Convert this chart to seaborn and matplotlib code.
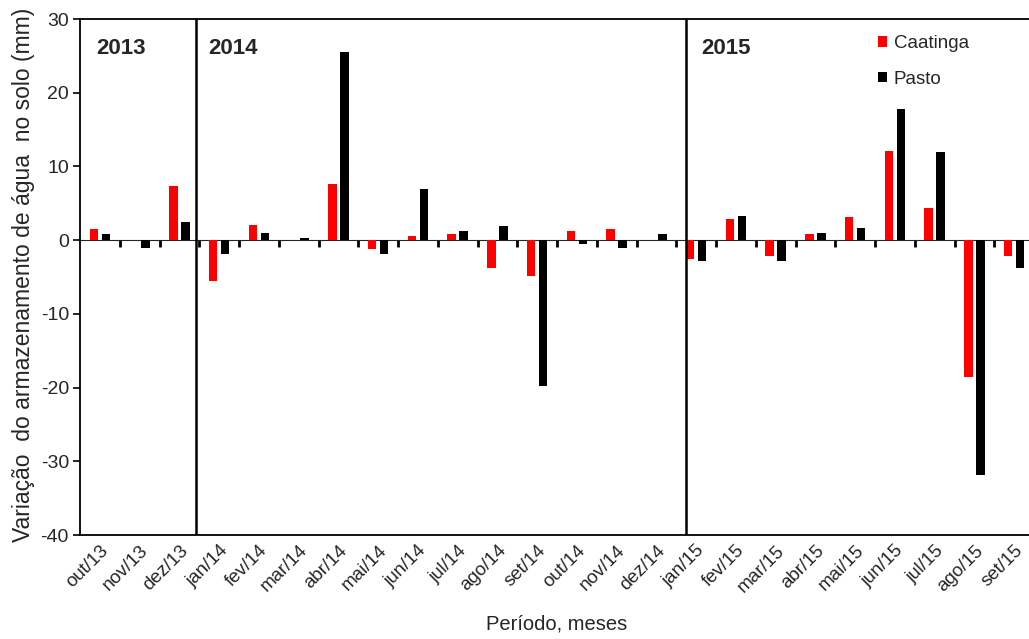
import numpy as np
import pandas as pd
import matplotlib
matplotlib.use("Agg")
import matplotlib.pyplot as plt
import seaborn as sns

# Monthly soil water storage change (mm), Oct/2013 - Sep/2015
months = ["out/13", "nov/13", "dez/13",
          "jan/14", "fev/14", "mar/14", "abr/14", "mai/14", "jun/14",
          "jul/14", "ago/14", "set/14", "out/14", "nov/14", "dez/14",
          "jan/15", "fev/15", "mar/15", "abr/15", "mai/15", "jun/15",
          "jul/15", "ago/15", "set/15"]
caatinga = [1.5, 0.0, 7.4,
            -5.6, 2.1, 0.0, 7.6, -1.2, 0.5,
            0.8, -3.8, -4.9, 1.2, 1.45, 0.0,
            -2.6, 2.85, -2.2, 0.8, 3.1, 12.1,
            4.4, -18.5, -2.2]
pasto = [0.8, -1.0, 2.4,
         -1.9, 1.0, 0.3, 25.5, -1.9, 6.9,
         1.3, 1.9, -19.8, -0.5, -1.0, 0.8,
         -2.85, 3.25, -2.85, 1.0, 1.7, 17.8,
         11.9, -31.9, -3.8]
series_names = ["Caatinga", "Pasto"]
series_colors = ["#ff0000", "#000000"]
years = ["2013", "2014", "2015"]

df = pd.DataFrame({
    "mes": months * 2,
    "valor": caatinga + pasto,
    "serie": [series_names[0]] * len(months) + [series_names[1]] * len(months),
})

sns.set_style("white")
plt.rcParams["font.family"] = ["Liberation Sans", "DejaVu Sans"]
plt.rcParams["axes.unicode_minus"] = False

W, H = 1029, 639
fig = plt.figure(figsize=(W / 100, H / 100), dpi=100)
ax = fig.add_axes([80 / W, (H - 535) / H, 954 / W, 516 / H])

sns.barplot(data=df, x="mes", y="valor", hue="serie", hue_order=series_names,
            palette=series_colors, saturation=1, width=0.6, gap=0.3,
            linewidth=0, ax=ax, order=months)

ymin, ymax = -40, 30
ax.set_ylim(ymin, ymax)
ax.set_xlim(-0.5, len(months) - 0.5)
ax.set_yticks(np.arange(-40, 31, 10))
ax.tick_params(axis="y", direction="out", length=5, width=1.2, color="black",
               labelsize=14, pad=3, left=True)
ax.tick_params(axis="x", length=0, labelsize=13.5, pad=5)
for lab in ax.get_xticklabels():
    lab.set_rotation(45)
    lab.set_ha("right")
    lab.set_va("top")
    lab.set_rotation_mode("anchor")

for side in ["left", "top", "bottom"]:
    ax.spines[side].set_color("black")
    ax.spines[side].set_linewidth(1.3)
ax.spines["right"].set_visible(False)

# Zero line with category boundary ticks hanging below it
zero_frac = (0 - ymin) / (ymax - ymin)
sec = ax.secondary_xaxis(zero_frac)
sec.xaxis.set_ticks_position("bottom")
sec.set_xticks(np.arange(len(months)) + 0.5)
sec.set_xticklabels([])
sec.tick_params(axis="x", direction="out", length=5, width=2, color="black",
                bottom=True, top=False)
sec.spines["bottom"].set_linewidth(2)
sec.spines["bottom"].set_color("black")

# Year separators
for xs in [2.42, 14.74]:
    ax.axvline(xs, color="black", lw=1.8, zorder=5)

# Year labels
for xt, yr in zip([-0.08, 2.72, 15.14], years):
    ax.text(xt, 26.0, yr, fontsize=16, fontweight="bold", ha="left", va="center")

ax.set_ylabel("Variação  do armazenamento de água  no solo (mm)", fontsize=16.5)
ax.yaxis.set_label_coords(-0.047, 0.505)
ax.set_xlabel("Período, meses", fontsize=14.5)
ax.xaxis.set_label_coords(0.5, -0.155)

handles, labels = ax.get_legend_handles_labels()
ax.legend(handles, labels, loc="upper left", bbox_to_anchor=((878 - 80) / 954, (535 - 35) / 516),
          frameon=False, fontsize=13.5, handlelength=0.5, handleheight=0.5,
          handletextpad=0.35, labelspacing=1.0, borderaxespad=0, borderpad=0)

fig.savefig("out.png", dpi=100)
